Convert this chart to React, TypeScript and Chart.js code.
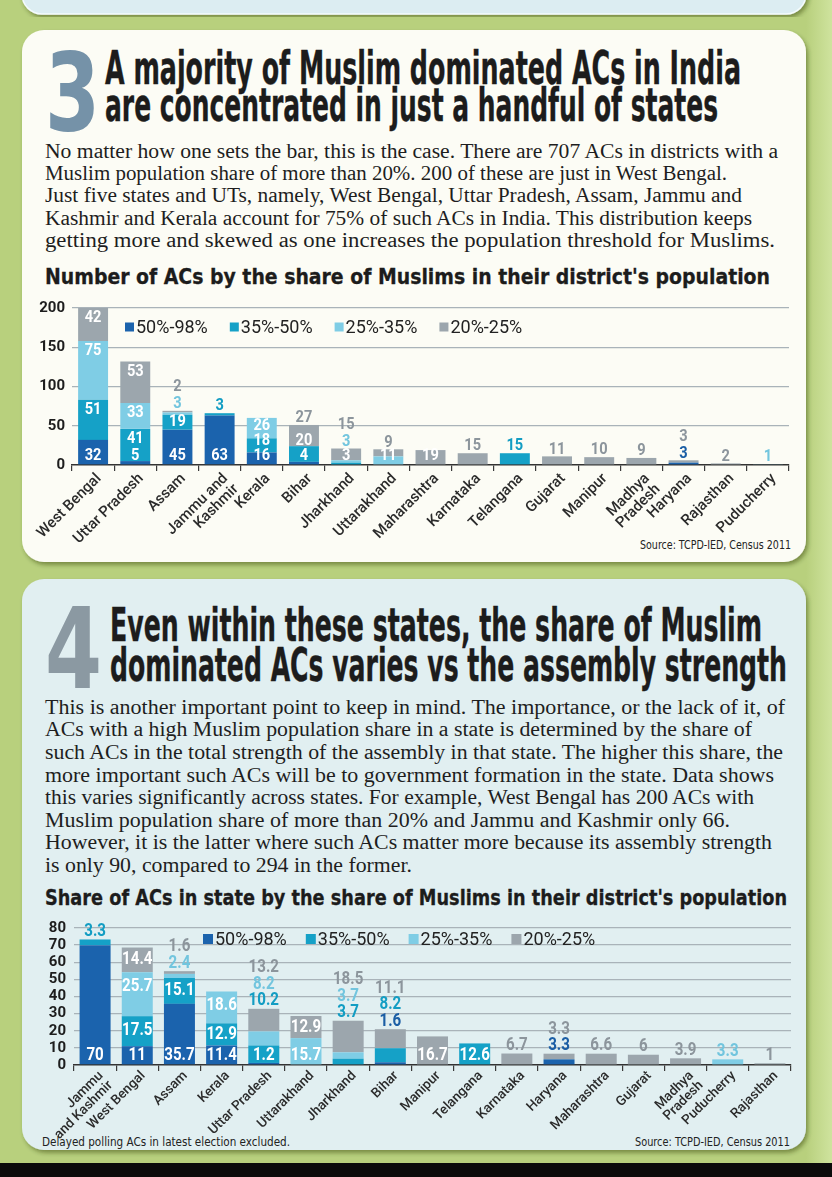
import React, { useEffect, useRef } from "react";
import { Chart, registerables } from "chart.js";

Chart.register(...registerables);

// ---------------- data ----------------
const SERIES_LABELS = ["50%-98%", "35%-50%", "25%-35%", "20%-25%"];
const SERIES_COLORS = ["#1b63ad", "#15a1c7", "#7fcde5", "#9ca6ad"];
const SERIES_TEXT_COLORS = ["#1b5ea5", "#139dc3", "#72c5de", "#8c959c"];

const COUNT_STATES: (string | string[])[] = [
  "West Bengal", "Uttar Pradesh", "Assam", ["Jammu and", "Kashmir"], "Kerala", "Bihar",
  "Jharkhand", "Uttarakhand", "Maharashtra", "Karnataka", "Telangana", "Gujarat", "Manipur",
  ["Madhya", "Pradesh"], "Haryana", "Rajasthan", "Puducherry",
];
const COUNT_50_98 = [32, 5, 45, 63, 16, 4, 0, 0, 0, 0, 0, 0, 0, 0, 3, 0, 0];
const COUNT_35_50 = [51, 41, 19, 3, 18, 20, 3, 0, 0, 0, 15, 0, 0, 0, 0, 0, 0];
const COUNT_25_35 = [75, 33, 3, 0, 26, 0, 3, 11, 0, 0, 0, 0, 0, 0, 0, 0, 1];
const COUNT_20_25 = [42, 53, 2, 0, 0, 27, 15, 9, 19, 15, 0, 11, 10, 9, 3, 2, 0];
const COUNT_AXIS_MAX = 200;
const COUNT_AXIS_STEP = 50;

const SHARE_STATES: (string | string[])[] = [
  ["Jammu", "and Kashmir"], "West Bengal", "Assam", "Kerala", "Uttar Pradesh", "Uttarakhand",
  "Jharkhand", "Bihar", "Manipur", "Telangana", "Karnataka", "Haryana", "Maharashtra",
  "Gujarat", ["Madhya", "Pradesh"], "Puducherry", "Rajasthan",
];
const SHARE_50_98 = [70, 11, 35.7, 11.4, 1.2, 0, 0, 1.6, 0, 0, 0, 3.3, 0, 0, 0, 0, 0];
const SHARE_35_50 = [3.3, 17.5, 15.1, 12.9, 10.2, 0, 3.7, 8.2, 0, 12.6, 0, 0, 0, 0, 0, 0, 0];
const SHARE_25_35 = [0, 25.7, 2.4, 18.6, 8.2, 15.7, 3.7, 0, 0, 0, 0, 0, 0, 0, 0, 3.3, 0];
const SHARE_20_25 = [0, 14.4, 1.6, 0, 13.2, 12.9, 18.5, 11.1, 16.7, 0, 6.7, 3.3, 6.6, 6, 3.9, 0, 1];
const SHARE_AXIS_MAX = 80;
const SHARE_AXIS_STEP = 10;

const PARA_3 = [
  "No matter how one sets the bar, this is the case. There are 707 ACs in districts with a",
  "Muslim population share of more than 20%. 200 of these are just in West Bengal.",
  "Just five states and UTs, namely, West Bengal, Uttar Pradesh, Assam, Jammu and",
  "Kashmir and Kerala account for 75% of such ACs in India. This distribution keeps",
  "getting more and skewed as one increases the population threshold for Muslims.",
];
const PARA_4 = [
  "This is another important point to keep in mind. The importance, or the lack of it, of",
  "ACs with a high Muslim population share in a state is determined by the share of",
  "such ACs in the total strength of the assembly in that state. The higher this share, the",
  "more important such ACs will be to government formation in the state. Data shows",
  "this varies significantly across states. For example, West Bengal has 200 ACs with",
  "Muslim population share of more than 20% and Jammu and Kashmir only 66.",
  "However, it is the latter where such ACs matter more because its assembly strength",
  "is only 90, compared to 294 in the former.",
];

// ---------------- styling ----------------
const SANS = "Roboto, 'Open Sans', sans-serif";
const HEAD = "'Liberation Sans Narrow', 'DejaVu Sans Condensed', Roboto, sans-serif";
const SERIF = "'Liberation Serif', 'DejaVu Serif', serif";

type Cfg = {
  labels: (string | string[])[];
  series: number[][];
  max: number;
  step: number;
  yWidth: number;
  xHeight: number;
  padTop: number;
  padRight: number;
  barPct: number;
  tickFont: number;
  tickPad: number;
  catFont: number;
  catLine: number;
  catOffset: number;
  catPad: number;
  labelFont: number;
  labelScale: number;
  insideMin: number;
  bottomMinTotal: number;
  baseOffset: number;
  topOffset: number;
  labelStep: number;
  aboveFirst: number;
  aboveStep: number;
  legendX: number;
  legendY: number;
  legendFont: number;
  legendBox: number;
  legendGap: number;
};

function segLabels(cfg: Cfg) {
  return {
    id: "segLabels",
    afterDatasetsDraw(chart: any) {
      const ctx: CanvasRenderingContext2D = chart.ctx;
      const ys = chart.scales.y;
      const base = ys.getPixelForValue(0);
      const n = chart.data.labels.length;
      ctx.save();
      ctx.font = `bold ${cfg.labelFont}px ${SANS}`;
      ctx.textAlign = "center";
      ctx.textBaseline = "middle";
      const put = (t: string, x: number, y: number, color: string) => {
        ctx.save();
        ctx.translate(x, y);
        ctx.scale(cfg.labelScale, 1);
        ctx.fillStyle = color;
        ctx.fillText(t, 0, 0);
        ctx.restore();
      };
      for (let i = 0; i < n; i++) {
        let total = 0;
        let lastIdx = -1;
        cfg.series.forEach((s, d) => {
          total += s[i];
          if (s[i]) lastIdx = d;
        });
        const topPx = ys.getPixelForValue(total);
        const barH = base - topPx;
        let above = false;
        let k = 0;
        let first = true;
        let lastY = Infinity;
        cfg.series.forEach((s, d) => {
          const v = s[i];
          if (!v) return;
          const el = chart.getDatasetMeta(d).data[i];
          const h = el.base - el.y;
          const txt = String(v);
          let placed = false;
          if (!above && first && (h >= cfg.insideMin || barH >= cfg.bottomMinTotal)) {
            lastY = base - cfg.baseOffset;
            put(txt, el.x, lastY, "#ffffff");
            placed = true;
          } else if (!above && !first && h >= cfg.insideMin) {
            const y = Math.min(el.y + Math.min(h / 2, cfg.topOffset), lastY - cfg.labelStep);
            const fits = d === lastIdx ? y - 5 >= el.y : y >= el.y - 6;
            if (fits) {
              lastY = y;
              put(txt, el.x, y, "#ffffff");
              placed = true;
            }
          }
          if (!placed) {
            above = true;
            put(txt, el.x, topPx - cfg.aboveFirst - k * cfg.aboveStep, SERIES_TEXT_COLORS[d]);
            k++;
          }
          first = false;
        });
      }
      ctx.restore();
    },
  };
}

function innerLegend(cfg: Cfg) {
  return {
    id: "innerLegend",
    afterDraw(chart: any) {
      const ctx: CanvasRenderingContext2D = chart.ctx;
      const area = chart.chartArea;
      let x = area.left + cfg.legendX;
      const y = area.top + cfg.legendY;
      ctx.save();
      ctx.font = `${cfg.legendFont}px ${SANS}`;
      ctx.textBaseline = "middle";
      ctx.textAlign = "left";
      chart.data.datasets.forEach((ds: any, i: number) => {
        ctx.fillStyle = SERIES_COLORS[i];
        ctx.fillRect(x, y - cfg.legendBox / 2, cfg.legendBox, cfg.legendBox);
        x += cfg.legendBox + 2;
        ctx.fillStyle = "#222";
        ctx.fillText(ds.label, x, y + 1);
        x += ctx.measureText(ds.label).width + cfg.legendGap;
      });
      ctx.restore();
    },
  };
}

function StackedChart({ cfg, box }: { cfg: Cfg; box: React.CSSProperties }) {
  const ref = useRef<HTMLCanvasElement>(null);
  useEffect(() => {
    const chart = new Chart(ref.current as HTMLCanvasElement, {
      type: "bar",
      data: {
        labels: cfg.labels as any,
        datasets: cfg.series.map((d, i) => ({
          label: SERIES_LABELS[i],
          data: d,
          backgroundColor: SERIES_COLORS[i],
          borderWidth: 0,
          barPercentage: cfg.barPct,
          categoryPercentage: 1,
        })),
      },
      options: {
        animation: false,
        responsive: true,
        maintainAspectRatio: false,
        layout: { padding: { top: cfg.padTop, right: cfg.padRight, left: 0, bottom: 0 } },
        plugins: { legend: { display: false }, tooltip: { enabled: false } },
        scales: {
          x: {
            stacked: true,
            grid: {
              display: true,
              drawOnChartArea: false,
              drawTicks: true,
              tickLength: 6,
              color: "#3a3a3a",
              lineWidth: 1.2,
              offset: true,
            },
            border: { display: true, color: "#333", width: 1.6 },
            ticks: {
              autoSkip: false,
              maxRotation: 45,
              minRotation: 45,
              padding: cfg.catPad,
              labelOffset: cfg.catOffset,
              color: "#2b2b2b",
              font: { family: SANS, size: cfg.catFont, weight: "500" as any, lineHeight: cfg.catLine },
            },
            afterFit: (s: any) => {
              s.height = cfg.xHeight;
            },
          },
          y: {
            stacked: true,
            min: 0,
            max: cfg.max,
            ticks: {
              stepSize: cfg.step,
              autoSkip: false,
              padding: cfg.tickPad,
              color: "#1d1d1d",
              font: { family: SANS, size: cfg.tickFont, weight: "bold" },
            },
            grid: {
              drawTicks: false,
              lineWidth: 1.3,
              color: (c: any) => (c.tick && c.tick.value === 0 ? "rgba(0,0,0,0)" : "#a9b3b9"),
            },
            border: { display: false },
            afterFit: (s: any) => {
              s.width = cfg.yWidth;
            },
          },
        },
      },
      plugins: [segLabels(cfg), innerLegend(cfg)],
    });
    return () => chart.destroy();
  }, []);
  return (
    <div style={{ position: "absolute", ...box }}>
      <canvas ref={ref} />
    </div>
  );
}

const countCfg: Cfg = {
  labels: COUNT_STATES,
  series: [COUNT_50_98, COUNT_35_50, COUNT_25_35, COUNT_20_25],
  max: COUNT_AXIS_MAX,
  step: COUNT_AXIS_STEP,
  yWidth: 42,
  xHeight: 85,
  padTop: 11,
  padRight: 11,
  barPct: 0.71,
  tickFont: 15,
  tickPad: 7,
  catFont: 15,
  catLine: 1.0,
  catOffset: 6,
  catPad: 0,
  labelFont: 17,
  labelScale: 0.86,
  insideMin: 12.5,
  bottomMinTotal: 14,
  baseOffset: 9,
  topOffset: 10,
  labelStep: 15,
  aboveFirst: 7,
  aboveStep: 17,
  legendX: 53,
  legendY: 19,
  legendFont: 18,
  legendBox: 9,
  legendGap: 22,
};

const shareCfg: Cfg = {
  labels: SHARE_STATES,
  series: [SHARE_50_98, SHARE_35_50, SHARE_25_35, SHARE_20_25],
  max: SHARE_AXIS_MAX,
  step: SHARE_AXIS_STEP,
  yWidth: 44,
  xHeight: 80,
  padTop: 10,
  padRight: 9,
  barPct: 0.735,
  tickFont: 15,
  tickPad: 8,
  catFont: 13.5,
  catLine: 1.0,
  catOffset: 6,
  catPad: -2,
  labelFont: 18,
  labelScale: 0.84,
  insideMin: 19,
  bottomMinTotal: 50,
  baseOffset: 9.5,
  topOffset: 14,
  labelStep: 17,
  aboveFirst: 8,
  aboveStep: 16.5,
  legendX: 129,
  legendY: 11,
  legendFont: 18,
  legendBox: 10,
  legendGap: 19,
};

function T(props: {
  x: number;
  y: number;
  len: number;
  size: number;
  family: string;
  weight?: number | string;
  fill?: string;
  stroke?: number;
  children: React.ReactNode;
}) {
  const fill = props.fill || "#1c1c1c";
  return (
    <text
      x={props.x}
      y={props.y}
      textLength={props.len}
      lengthAdjust="spacingAndGlyphs"
      fontSize={props.size}
      fontFamily={props.family}
      fontWeight={props.weight || 400}
      fill={fill}
      stroke={props.stroke ? fill : undefined}
      strokeWidth={props.stroke || 0}
      style={{ whiteSpace: "pre" }}
    >
      {props.children}
    </text>
  );
}

const P3_ENDS = [778, 727, 742, 752, 775];
const P4_ENDS = [785, 752, 783, 774, 754, 730, 772, 412];
const P4_BASE = [713.5, 736, 759, 781.5, 804, 826.5, 849, 871.5];

export default function App() {
  return (
    <div
      style={{
        position: "absolute",
        left: 0,
        top: 0,
        width: 832,
        height: 1177,
        overflow: "hidden",
        background: "#b8d07d",
      }}
    >
      <svg width={832} height={1177} style={{ position: "absolute", left: 0, top: 0 }}>
        <defs>
          <filter id="sh" x="-5%" y="-5%" width="110%" height="110%">
            <feDropShadow dx="2" dy="3" stdDeviation="2.2" floodColor="#2a3a10" floodOpacity="0.45" />
          </filter>
          <linearGradient id="strip" x1="0" x2="1" y1="0" y2="0">
            <stop offset="0" stopColor="#b8d07d" />
            <stop offset="1" stopColor="#cfe39e" />
          </linearGradient>
        </defs>
        <rect x={806} y={0} width={26} height={1177} fill="url(#strip)" />
        <rect x={22} y={-40} width={784} height={54} rx={20} fill="#dcedf2" stroke="#f4fbfd" strokeWidth={1.5} filter="url(#sh)" />
        <rect x={22} y={30} width={784} height={532} rx={22} fill="#fcfcf5" filter="url(#sh)" />
        <rect x={22} y={579} width={784} height={571} rx={22} fill="#e1eff1" filter="url(#sh)" />
        <rect x={0} y={1163} width={832} height={14} fill="#0b0b0b" />

        {/* section 3 */}
        <T x={45} y={130} len={55} size={108} family={HEAD} weight={700} fill="#7592a8">3</T>
        <T x={105} y={84} len={636} size={46} family={HEAD} weight={700} stroke={0.4}>
          A majority of Muslim dominated ACs in India
        </T>
        <T x={105} y={121} len={613} size={46} family={HEAD} weight={700} stroke={0.4}>
          are concentrated in just a handful of states
        </T>
        {PARA_3.map((l, i) => (
          <T key={i} x={45} y={158 + i * 22.2} len={P3_ENDS[i] - 45} size={20} family={SERIF} fill="#1e1e1e">
            {l}
          </T>
        ))}
        <T x={45} y={284} len={725} size={22} family={HEAD} weight={700} stroke={0.3}>
          Number of ACs by the share of Muslims in their district's population
        </T>
        <T x={640} y={549} len={151} size={13} family={HEAD} fill="#222">
          Source: TCPD-IED, Census 2011
        </T>

        {/* section 4 */}
        <T x={45} y={688} len={57} size={112} family={HEAD} weight={700} fill="#8b99a2">4</T>
        <T x={110} y={641} len={652} size={46} family={HEAD} weight={700} stroke={0.4}>
          Even within these states, the share of Muslim
        </T>
        <T x={110} y={681} len={677} size={46} family={HEAD} weight={700} stroke={0.4}>
          dominated ACs varies vs the assembly strength
        </T>
        {PARA_4.map((l, i) => (
          <T key={i} x={45} y={P4_BASE[i]} len={P4_ENDS[i] - 45} size={20} family={SERIF} fill="#1e1e1e">
            {l}
          </T>
        ))}
        <T x={45} y={905} len={742} size={22} family={HEAD} weight={700} stroke={0.3}>
          Share of ACs in state by the share of Muslims in their district's population
        </T>
        <T x={42} y={1146} len={248} size={13} family={HEAD} fill="#222">
          Delayed polling ACs in latest election excluded.
        </T>
        <T x={635} y={1146} len={155} size={13} family={HEAD} fill="#222">
          Source: TCPD-IED, Census 2011
        </T>
      </svg>

      <StackedChart cfg={countCfg} box={{ left: 30, top: 292, width: 770, height: 258 }} />
      <StackedChart cfg={shareCfg} box={{ left: 30, top: 911, width: 770, height: 234 }} />
    </div>
  );
}
